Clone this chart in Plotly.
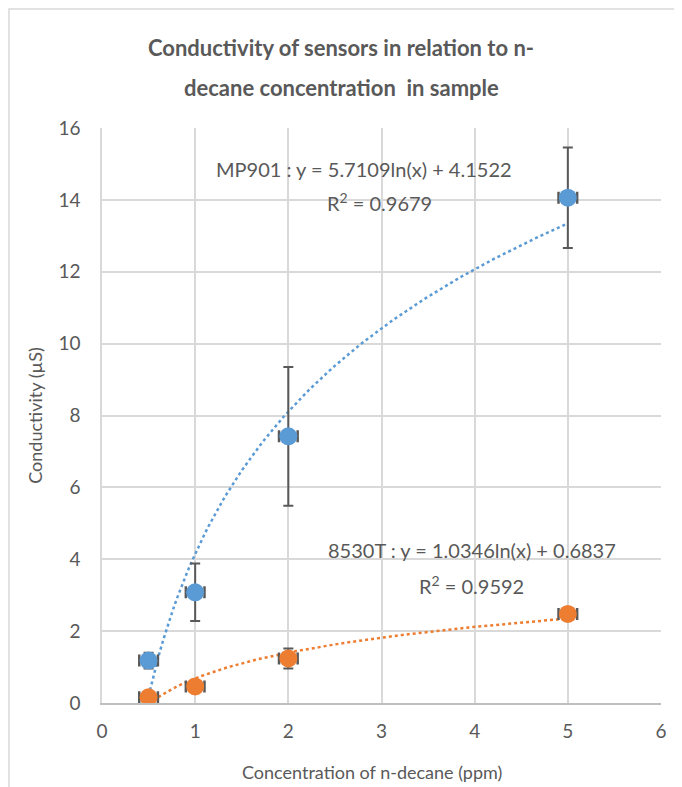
import numpy as np
import plotly.graph_objs as go

# concentration of n-decane (ppm)
conc = [0.5, 1, 2, 5]

# MP901 sensor
mp901_y = [1.18, 3.08, 7.42, 14.06]
mp901_err = [0.22, 0.8, 1.93, 1.4]

# 8530T sensor
t8530_y = [0.16, 0.46, 1.24, 2.48]
t8530_err = [0.1, 0.1, 0.28, 0.12]

x_err = [0.1, 0.1, 0.1, 0.1]

# fitted log trends as printed on the chart
mp901_fit = (5.7109, 4.1522)
t8530_fit = (1.0346, 0.6837)

BLUE = "#5b9bd5"
ORANGE = "#ed7d31"
GREY = "#595959"
FONT = "Lato, sans-serif"

# the page body adds 8px around the figure, margins are set for that
M = dict(l=94, r=29, t=120, b=92)
PH = 787 - M["t"] - M["b"]
PW = 682 - M["l"] - M["r"]


def py(page_y):
    """paper y from a y position on the page"""
    return 1 + (M["t"] - (page_y - 8)) / PH


def px(page_x):
    """paper x from an x position on the page"""
    return (page_x - 8 - M["l"]) / PW


def trend(a, b):
    xs = np.linspace(min(conc), max(conc), 120)
    return xs, a * np.log(xs) + b


plot_data = []
for (a, b), color in zip([mp901_fit, t8530_fit], [BLUE, ORANGE]):
    xs, ys = trend(a, b)
    plot_data.append(
        go.Scatter(
            x=xs, y=ys, mode="lines",
            line=dict(color=color, width=2.5, dash="dot"),
            hoverinfo="skip", showlegend=False,
        )
    )

for ys, err, color, name in [
    (mp901_y, mp901_err, BLUE, "MP901"),
    (t8530_y, t8530_err, ORANGE, "8530T"),
]:
    plot_data.append(
        go.Scatter(
            x=conc, y=ys, mode="markers", name=name,
            marker=dict(color=color, size=18),
            error_y=dict(type="data", array=err, color=GREY, thickness=2, width=5),
            error_x=dict(type="data", array=x_err, color=GREY, thickness=2.5, width=6),
            showlegend=False,
        )
    )

label_font = dict(size=20, color=GREY, family=FONT)
title_font = dict(size=22, color=GREY, family=FONT)


def note(x, y, text, font, xref="x"):
    return dict(x=x, y=py(y), xref=xref, yref="paper", showarrow=False,
                xanchor="center", yanchor="middle", text=text, font=font)


layout = go.Layout(
    width=682, height=787,
    margin=M,
    paper_bgcolor="white", plot_bgcolor="white",
    font=dict(family=FONT, color=GREY, size=16),
    xaxis=dict(
        range=[0, 6], dtick=1, automargin=False,
        showgrid=True, gridcolor="#d9d9d9", gridwidth=1.5,
        zeroline=False, showline=True, linecolor="#bfbfbf", linewidth=1.5,
        ticks="",
        tickfont=dict(size=19, color=GREY, family=FONT),
        ticklabelstandoff=10,
    ),
    yaxis=dict(
        range=[0, 16], dtick=2, automargin=False,
        showgrid=True, gridcolor="#d9d9d9", gridwidth=1.5,
        zeroline=False, showline=True, linecolor="#d9d9d9", linewidth=1.5,
        ticks="",
        tickfont=dict(size=19, color=GREY, family=FONT),
        ticklabelstandoff=16,
        title=dict(text="Conductivity (µS)", font=dict(size=18, color=GREY), standoff=11),
    ),
    annotations=[
        note(px(341), 47, "<b>Conductivity of sensors in relation to n-</b>", title_font, "paper"),
        note(px(341), 87, "<b>decane concentration  in sample</b>", title_font, "paper"),
        note(px(372), 772, "Concentration of n-decane (ppm)", dict(size=18, color=GREY, family=FONT), "paper"),
        note(2.81, 169, "MP901 : y = 5.7109ln(x) + 4.1522", label_font),
        note(2.98, 202, "R<sup>2</sup> = 0.9679", label_font),
        note(3.97, 550, "8530T : y = 1.0346ln(x) + 0.6837", label_font),
        note(3.97, 585, "R<sup>2</sup> = 0.9592", label_font),
    ],
    shapes=[
        dict(type="rect", xref="paper", yref="paper",
             x0=-(M["l"] - 1) / PW, x1=1 + (M["r"] - 5) / PW,
             y0=-(M["b"] - 1) / PH, y1=1 + (M["t"] - 1) / PH,
             line=dict(color="#d9d9d9", width=1.5)),
    ],
)

fig = go.Figure(data=plot_data, layout=layout)
fig.write_html("out.html")
